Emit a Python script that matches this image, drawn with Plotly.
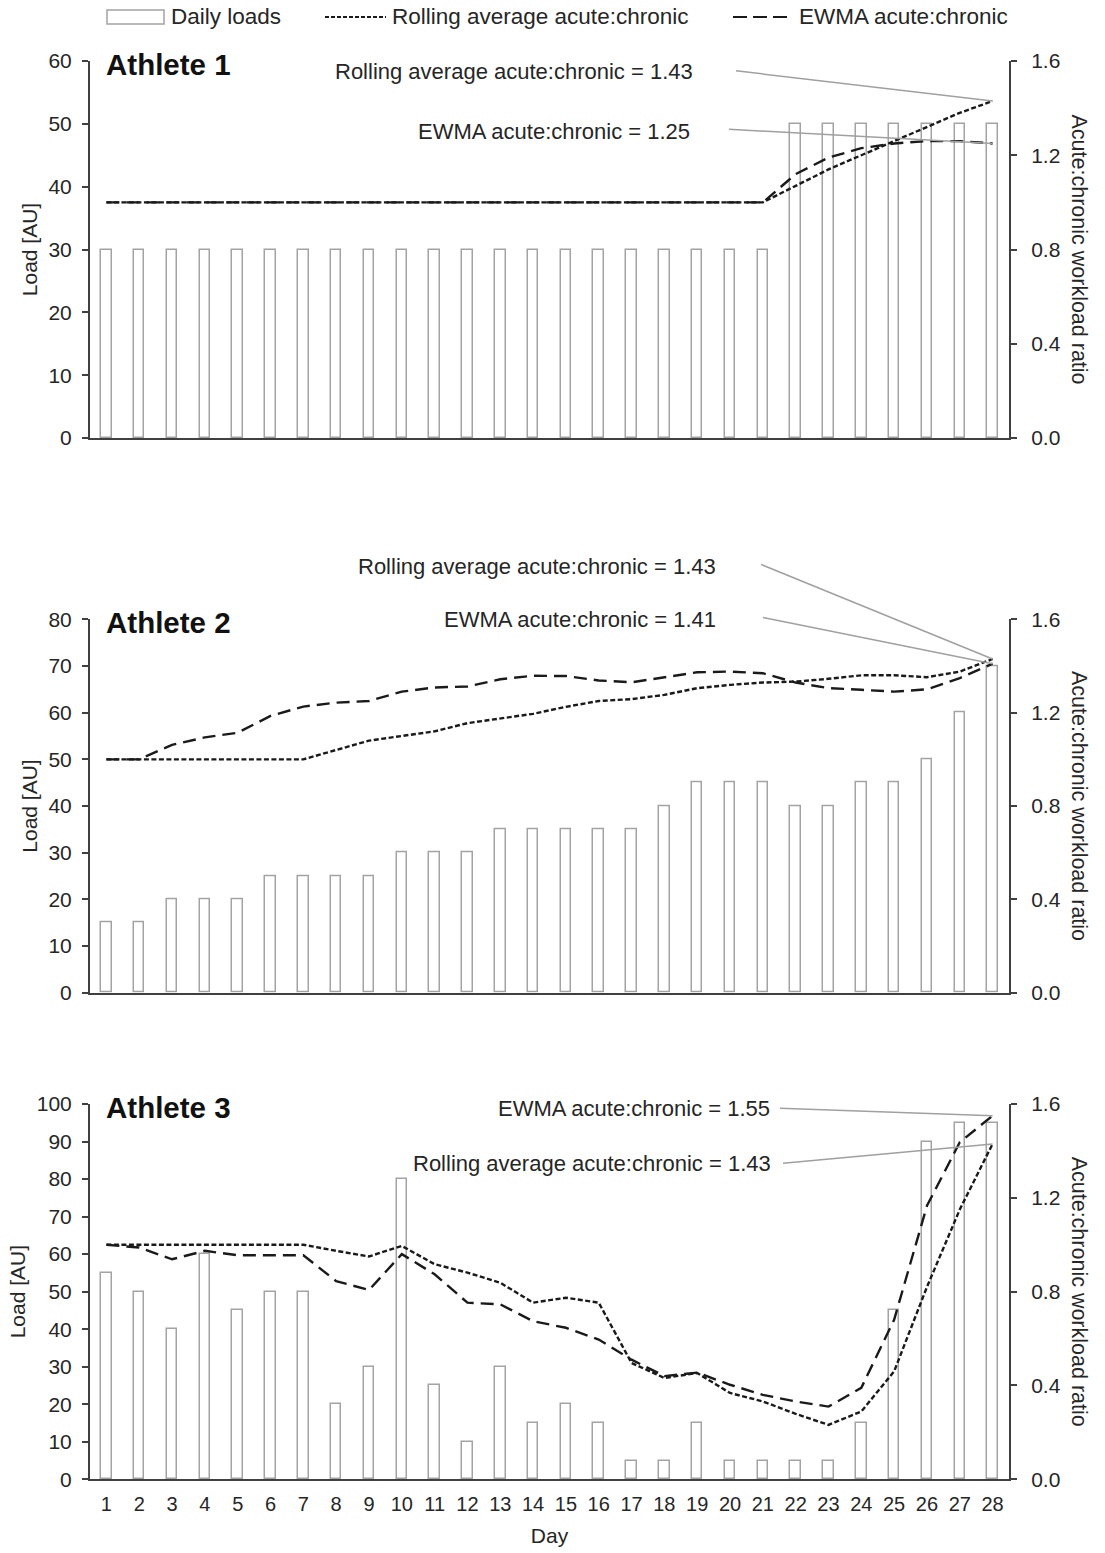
import plotly.graph_objects as go
from plotly.subplots import make_subplots

days = list(range(1, 29))
day_labels = [str(d) for d in days]

# Athlete 1
loads_1 = [30] * 21 + [50] * 7
rolling_1 = [1.0] * 21 + [1.07, 1.14, 1.20, 1.26, 1.32, 1.38, 1.43]
ewma_1 = [1.0] * 21 + [1.12, 1.19, 1.23, 1.25, 1.26, 1.26, 1.25]

# Athlete 2
loads_2 = [15, 15, 20, 20, 20, 25, 25, 25, 25, 30, 30, 30, 35, 35, 35, 35, 35,
           40, 45, 45, 45, 40, 40, 45, 45, 50, 60, 70]
rolling_2 = [1.0, 1.0, 1.0, 1.0, 1.0, 1.0, 1.0, 1.04, 1.08, 1.10, 1.12, 1.155,
             1.175, 1.195, 1.225, 1.25, 1.258, 1.276, 1.305, 1.319, 1.329, 1.333,
             1.345, 1.36, 1.36, 1.352, 1.376, 1.43]
ewma_2 = [1.0, 1.0, 1.062, 1.094, 1.114, 1.186, 1.226, 1.243, 1.25, 1.29, 1.308,
          1.312, 1.343, 1.358, 1.357, 1.338, 1.33, 1.352, 1.373, 1.376, 1.369,
          1.329, 1.305, 1.298, 1.29, 1.30, 1.348, 1.41]

# Athlete 3
loads_3 = [55, 50, 40, 60, 45, 50, 50, 20, 30, 80, 25, 10, 30, 15, 20, 15, 5, 5,
           15, 5, 5, 5, 5, 15, 45, 90, 95, 95]
rolling_3 = [1.0, 1.0, 1.0, 1.0, 1.0, 1.0, 1.0, 0.974, 0.95, 0.995, 0.917, 0.881,
             0.838, 0.753, 0.774, 0.753, 0.496, 0.432, 0.453, 0.368, 0.332, 0.279,
             0.232, 0.289, 0.46, 0.82, 1.15, 1.43]
ewma_3 = [1.0, 0.988, 0.938, 0.974, 0.955, 0.955, 0.955, 0.845, 0.807, 0.96, 0.874,
          0.753, 0.746, 0.674, 0.646, 0.596, 0.51, 0.44, 0.455, 0.403, 0.36, 0.332,
          0.31, 0.39, 0.68, 1.166, 1.437, 1.55]

athletes = ["Athlete 1", "Athlete 2", "Athlete 3"]
loads = [loads_1, loads_2, loads_3]
rollings = [rolling_1, rolling_2, rolling_3]
ewmas = [ewma_1, ewma_2, ewma_3]
load_max = [60, 80, 100]
ratio_labels = [
    ("Rolling average acute:chronic = 1.43", "EWMA acute:chronic = 1.25"),
    ("Rolling average acute:chronic = 1.43", "EWMA acute:chronic = 1.41"),
    ("Rolling average acute:chronic = 1.43", "EWMA acute:chronic = 1.55"),
]

W, H = 1105, 1553
ML, MR = 90, 96
PW = W - ML - MR
FONT = "Liberation Sans, Arial, sans-serif"
TXT = "#262626"
AX = "#404040"
BAR_LINE = "#a3a3a3"
LEAD = "#a0a0a0"
LINE = "#1a1a1a"

panels_px = [(61, 438), (619.3, 992.7), (1104, 1479.3)]


def py(p):
    return 1 - p / H


def px(p):
    return (p - ML) / PW


def xdata(p):
    return 0.5 + (p - ML) / (PW / 28.0)


fig = make_subplots(rows=3, cols=1, specs=[[{"secondary_y": True}]] * 3)

for i in range(3):
    r = i + 1
    fig.add_trace(go.Bar(x=days, y=loads[i], width=0.32,
                         marker=dict(color="white", line=dict(color=BAR_LINE, width=1.5)),
                         showlegend=False, name="Daily loads"),
                  row=r, col=1, secondary_y=False)
    fig.add_trace(go.Scatter(x=days, y=rollings[i], mode="lines",
                             line=dict(color=LINE, width=2.4, dash="5px,2.5px"),
                             showlegend=False, name="Rolling average acute:chronic"),
                  row=r, col=1, secondary_y=True)
    fig.add_trace(go.Scatter(x=days, y=ewmas[i], mode="lines",
                             line=dict(color=LINE, width=2.4, dash="13px,7px"),
                             showlegend=False, name="EWMA acute:chronic"),
                  row=r, col=1, secondary_y=True)

layout = dict(
    width=W, height=H,
    margin=dict(l=ML, r=MR, t=0, b=0, autoexpand=False),
    paper_bgcolor="white", plot_bgcolor="white",
    font=dict(family=FONT, size=21, color=TXT),
    bargap=0,
    showlegend=False,
)

for i in range(3):
    top, bot = panels_px[i]
    dom = [py(bot), py(top)]
    xa = "xaxis" if i == 0 else f"xaxis{i+1}"
    ya = "yaxis" if i == 0 else f"yaxis{2*i+1}"
    ya2 = f"yaxis{2*i+2}"
    layout[xa] = dict(range=[0.5, 28.5], showline=True, linecolor=AX, linewidth=2,
                      ticks="", showgrid=False, zeroline=False, automargin=False,
                      tickmode="array", tickvals=days, ticktext=day_labels,
                      showticklabels=(i == 2), tickfont=dict(size=20, color=TXT),
                      ticklabelstandoff=6, domain=[0, 1])
    if i == 2:
        layout[xa]["title"] = dict(text="Day", font=dict(size=21, color=TXT), standoff=14)
    layout[ya] = dict(range=[0, load_max[i]], dtick=10, tick0=0, domain=dom,
                      showline=True, linecolor=AX, linewidth=2, ticks="outside",
                      ticklen=6, tickwidth=1.5, tickcolor=AX, showgrid=False,
                      zeroline=False, automargin=False, ticklabelstandoff=6,
                      tickfont=dict(size=21, color=TXT),
                      title=dict(text="Load [AU]", font=dict(size=21, color=TXT), standoff=5))
    layout[ya2] = dict(range=[0, 1.6], dtick=0.4, tick0=0, tickformat=".1f",
                       showline=True, linecolor=AX, linewidth=2, ticks="outside",
                       ticklen=6, tickwidth=1.5, tickcolor=AX, showgrid=False,
                       zeroline=False, automargin=False, ticklabelstandoff=10,
                       tickfont=dict(size=21, color=TXT))

fig.update_layout(**layout)

annotations = []
# Athlete titles and right axis titles
for i in range(3):
    top, bot = panels_px[i]
    annotations.append(dict(text=f"<b>{athletes[i]}</b>", xref="paper", yref="paper",
                            x=px(104), y=py(top + 3), xanchor="left", yanchor="middle",
                            showarrow=False, font=dict(size=29.5, color="#111111")))
    annotations.append(dict(text="Acute:chronic workload ratio", xref="paper", yref="paper",
                            x=px(1079), y=py((top + bot) / 2), textangle=90,
                            xanchor="center", yanchor="middle", showarrow=False,
                            font=dict(size=21.5, color=TXT)))

# ratio labels with leader lines (label right edge x, center y, line start x, y)
label_pos = [
    [(695, 71.5, 735, 70.7, rolling_1[-1]), (692, 131, 728, 129.3, ewma_1[-1])],
    [(718, 566, 760, 564, rolling_2[-1]), (718, 619.5, 762, 617.3, ewma_2[-1])],
    [(773, 1163.5, 782, 1163.3, rolling_3[-1]), (772, 1108.5, 779, 1108.3, ewma_3[-1])],
]
for i in range(3):
    top, bot = panels_px[i]
    xr = "x" if i == 0 else f"x{i+1}"
    yr = f"y{2*i+2}"
    for k in range(2):
        tx, ty, lx, ly, val = label_pos[i][k]
        annotations.append(dict(text=ratio_labels[i][k], xref="paper", yref="paper",
                                x=px(tx), y=py(ty), xanchor="right", yanchor="middle",
                                showarrow=False, font=dict(size=22, color=TXT)))
        ly_val = (bot - ly) / (bot - top) * 1.6
        annotations.append(dict(text=" ", font=dict(size=2), borderpad=0,
                                xref=xr, yref=yr, x=days[-1], y=val,
                                axref=xr, ayref=yr, ax=xdata(lx), ay=ly_val,
                                showarrow=True, arrowhead=0, arrowwidth=1.5,
                                arrowcolor=LEAD, standoff=0))

# manual legend
shapes = []
ly = py(17)
shapes.append(dict(type="rect", xref="paper", yref="paper", x0=px(107), x1=px(164),
                   y0=py(24), y1=py(10), line=dict(color=BAR_LINE, width=1.5),
                   fillcolor="white"))
shapes.append(dict(type="line", xref="paper", yref="paper", x0=px(325), x1=px(386),
                   y0=ly, y1=ly, line=dict(color=LINE, width=2, dash="4px,2px")))
shapes.append(dict(type="line", xref="paper", yref="paper", x0=px(733), x1=px(793),
                   y0=ly, y1=ly, line=dict(color=LINE, width=2, dash="14px,6px")))
for txt, x1 in [("Daily loads", 283), ("Rolling average acute:chronic", 690),
                ("EWMA acute:chronic", 1010)]:
    annotations.append(dict(text=txt, xref="paper", yref="paper", x=px(x1), y=ly,
                            xanchor="right", yanchor="middle", showarrow=False,
                            font=dict(size=22.5, color=TXT)))

fig.update_layout(annotations=annotations, shapes=shapes)
fig.write_html("out.html")
